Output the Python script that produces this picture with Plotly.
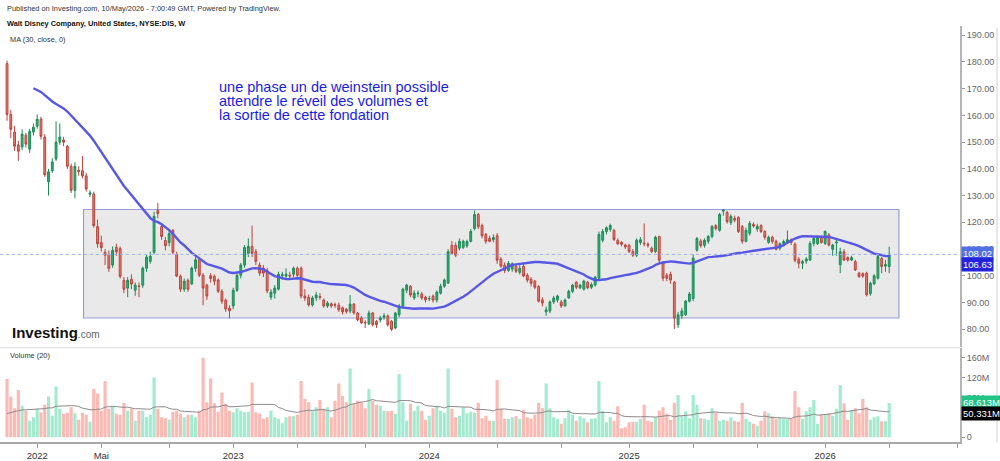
import pandas as pd
import plotly.graph_objects as go

# ---------------- data (weekly, DIS) ----------------
first_week = "2021-11-08"
opens = [179.4,160.4,153.8,149,148.2,152.6,147.4,153.8,156,158.6,
151.9,135.2,139.3,143.7,150,150.8,148.5,141,132,139.5,
139.3,137.4,130.5,130.6,118.4,112.4,108.8,108,104,110.6,
110.2,98.3,95.4,98.7,94.6,96.2,96.5,102.8,105.4,108.8,
124.4,118.4,113.2,112.4,117,108,99.8,95,98.3,97,
102.8,106,100.2,96.5,100,99.8,98.4,94.2,90.9,87.9,
88.7,94.6,100.2,104,108.4,111,109,104,102.8,102,
92,93.5,95,100,99.9,100.2,100.6,102.8,102.8,92.4,
92,89.1,91.7,92.2,90.9,88.7,89.5,89.2,89,88,
87.5,86.8,89.4,86.1,84.2,82.6,82,86.1,83,83.5,
84.5,85,83,80.5,85.4,88.7,94.6,96.1,91.7,93.3,
93.2,92,91.3,92.4,90.9,93.5,96.1,97.3,111.4,111.4,
110.3,110.6,111.2,112.9,117.7,122.9,118.8,115.5,114,113.5,
115,106.2,104,102,102.5,103.6,101.3,103.6,100.2,98.7,
98,96,91,86.5,86.8,90.2,90.9,90.2,88.7,91.7,
94.2,97.6,95.5,95,97.6,95.7,96.5,99.1,113.3,116.6,
117.3,117,113.3,112.5,111.5,111.4,109.1,107.7,112.5,112.2,
111.8,110.3,109.1,114.7,105,100.2,100.6,97.6,81.7,85,
85.4,90.5,91.5,109.6,113,111.4,112.9,114.7,118.8,117,
124.2,123.7,119.9,121.5,121.8,118.4,112.9,115.9,119.2,117.5,
118.8,116.6,112.5,114.4,112.9,110.3,112,112.5,113.5,111.8,
106.2,104.7,105.5,105.9,112.1,112,114.5,112.1,115.3,109.9,
112.3,104.1,109,106.8,105.9,105.3,101,100.8,101,93.3,
97,99.1,106.5,103.6,103.5]
highs = [180.5,162,156,150.5,154.8,153.5,155,157,160.4,159.5,
153,140,144,157.8,157,152,149,142,142.5,141,
144.8,138.5,132,131.5,121,115,110,109.5,111,112,
111,99.5,99.5,100.5,97.5,97.5,103.5,108,109,124,
127.3,119.5,114.5,117,117.5,109,100.5,99,99,103.5,
107,106.5,101,97,101,100.5,99,95,91.5,89,
95.5,101,104.8,111.5,114,118.8,110,105,104,103,
95,96.5,101.5,101.5,102.8,101.5,103.5,103.5,103.5,95,
93,92.5,94,93.5,91.5,90.5,90,90,90,88.5,
88,92.8,89.8,86.5,85,83.5,87,86.5,83.5,85,
86,85.5,83.5,86.5,89.5,95.5,97,96.5,94.5,94.5,
94,92.5,92.5,93,94.5,97,99,110,113,112.5,
114,113.5,113.5,117.5,124.4,123.5,119.5,116,115,115.5,
116,107,105,105.5,105,104,104,104.5,101,99.5,
98.5,96.5,92,88.5,90.8,92.5,93,91,91.5,94.8,
97,98,97,98.5,98,97.5,100,116.5,117.5,118.5,
119.5,117.5,114,113,112,112,110,114,114.5,119.6,
112.5,111,115,115,105.5,101,101.5,98,86.5,88,
91,94,108,114.5,113.8,114,115.3,119,119.3,123.5,
125,124.3,123,122.5,122.3,119,118,120.5,120,119.5,
119.3,117,115,115,113.5,112.5,113.5,117,114,112.5,
107,106,107,113,114.5,115,115,117,116,112,
113.5,110.5,110,107.3,107.5,106,101.5,101.3,101.5,97.8,
100.6,107.8,107,106,110.9]
lows = [158,151.5,146.7,143,147,148,146,152.5,155,151,
137,130,138.5,143,149,148.5,140,131,129,137.5,
136.5,131.5,129.5,118,110.5,109,104,101.5,103,107.5,
99,93.5,92,95,92.5,92,95.5,101.5,104.5,108,
121.5,113.5,109.5,111,108,99.5,94,94,94,96.5,
101.5,99.5,89,91,97.5,96.5,93.5,89.5,86.5,84.1,
87.5,94,99,103,107,107,104,100,99.5,93.5,
91,91.5,94.5,98.5,99,98.5,99.5,99,91.5,90.5,
88.5,88.5,90.5,91,88,88,88,88,86.5,85.5,
85.8,86,85.5,83,82,80.5,81.5,81,80.5,82.5,
83.5,81,79.3,80,84.5,88,93.5,92,91,92,
91,90,90.5,90,90,93,95.5,97,108,107,
109.5,110,110.5,112.5,117,117.5,114,112,112.5,112.5,
104.5,103,101,101.5,101.5,101,100.5,99.5,97.5,96,
95,90,88.5,85,86,89.5,90,88,88.5,91.5,
93.5,95,95,94.5,95,95,96,98.5,112.5,115.5,
116.5,113,111.5,111,110,108.5,107,107,111.5,111,
110.5,108.5,108.5,105,98,98,97,80.1,80.5,84,
85,90,90.5,109,110.5,110.5,112,114,117,116.5,
122.5,119.5,119,120,116,112,112.5,115,118,116.5,
116,113.5,112,112,109.5,109.5,111,112,111.5,105,
102.8,102.5,104.5,105.5,111,111.5,112,111.5,111,107.5,
107.5,101,105.5,105.3,105.5,101.8,99.2,99.2,92.3,92.5,
96.5,98.6,101,101.5,101]
closes = [160.4,154.8,148.5,146.6,153,149.3,154,155.6,158.6,152.2,
137.8,138.9,142.6,150,151.9,150,141,132,141,139,
137.4,132.5,131,118.8,112,110.6,107.7,102.8,109.5,109,
99.8,95,98.3,96.9,96.5,96,102.8,107,107.3,122.2,
123.3,114.7,111.3,115.8,108.8,99.9,95,98,95,102.8,
106,100.2,95.4,92.4,99,98,94.2,90.5,87.6,86.9,
94.6,100.2,104,110.6,111,108.4,105.4,101,101,94.3,
93.9,95.4,100.6,100.4,100.6,99.9,102.8,100.2,92.4,91.7,
89.1,91.7,92.8,92,88.7,89.8,88.7,89,87.3,86.5,
86.6,89.4,86.1,83.5,82.4,82.4,86.1,81.7,81.7,84.2,
85,81.7,80,86,88.7,95,96.5,92.8,93.5,93.5,
91.7,91,91.5,90.9,93.9,96.1,98.4,109,108.4,107.7,
112.9,112.9,112.8,116.6,122.9,118.4,115,112.9,112.9,114.3,
105.8,103.6,102,104.7,104.5,101.7,102.8,99.9,98.4,97.2,
95.7,90.5,89.8,87.3,90.2,91.7,92.4,88.7,90.9,94.2,
96.5,95.7,96.5,98,95.5,96.7,99.5,115.5,116.6,118,
118.8,113.6,112,111.8,110.8,109.1,107.7,113.3,113.5,112,
111.4,109.1,114.4,105.8,99.1,99.1,98.4,84.2,85.4,86.8,
90.5,93.2,106.6,114,111.3,113.3,114.7,118.4,117.7,122.9,
124.6,120.3,122.2,120.8,116.6,112.9,117,119.6,118.6,118.5,
116.6,114.4,114.4,112.9,109.9,112,112.8,113.5,112.5,105.8,
104.7,105.3,106.3,112.1,114,114.5,112.5,116.6,111.5,111.5,
112.6,109,105.9,105.9,106.8,102.2,99.7,99.9,92.9,97.2,
100,107.2,103.5,104.2,108.02]
volumes_m = [117,82,58,95,63,53,33,40,57,50,
65,82,43,102,57,47,49,60,48,35,
49,45,31,97,88,53,113,57,63,47,
45,69,53,57,33,53,53,40,45,120,
57,40,38,35,51,53,47,40,45,45,
40,53,160,70,118,68,51,90,67,53,
50,58,53,50,51,110,50,47,37,40,
53,40,37,28,40,42,42,45,113,77,
70,53,60,75,57,60,40,73,108,83,
70,138,67,73,70,58,97,73,65,63,
53,52,53,47,127,70,33,67,53,63,
53,35,43,58,63,53,49,138,57,40,
43,60,48,51,49,69,38,43,33,33,
115,57,37,37,40,42,37,55,40,37,
45,69,58,108,58,40,37,27,38,55,
45,33,42,38,30,37,38,113,53,30,
40,33,62,18,20,30,31,31,37,65,
33,31,40,53,60,47,35,69,85,42,
52,38,85,65,38,37,35,58,50,33,
35,33,40,33,31,69,37,31,27,23,
33,52,48,42,37,38,37,37,38,93,
60,37,52,60,75,27,45,45,48,43,
57,105,68,35,55,58,48,77,60,35,
40,42,32,32,68.613]
# weeks before the first visible candle (feed the moving averages only)
pre_closes = [176.5,176,173.5,177,176,178,175,177,176,177.5,183,
              178,181,183,180,176,175,171,172,174,172,176]
pre_volumes_m = [38,42,35,40,45,36,33,41,48,39,52,44,37,46,43,50,47,55,61]

ma_label = "106.63"
vol_ma_label = "50.331M"

tick_dates = ["2022-01-03","2022-05-02","2022-09-05","2023-01-02","2023-05-01","2023-09-04",
              "2024-01-01","2024-05-06","2024-09-02","2025-01-06","2025-05-05","2025-09-01",
              "2026-01-05","2026-05-04","2026-09-07"]
tick_text = ["2022","Mai","","2023","","","2024","","","2025","","","2026","",""]
price_ticks = [80,90,100,110,120,130,140,150,160,170,180,190]
vol_ticks = [0,80,120,160]

box_start, box_end = "2022-03-30", "2026-05-22"
box_low, box_high = 84.2, 124.8

note_lines = ["une phase un de weinstein possible",
              "attendre le réveil des volumes et",
              "la sortie de cette fondation"]

n = len(closes)
assert len(opens) == len(highs) == len(lows) == n == len(volumes_m)
dates = pd.date_range(first_week, periods=n, freq="7D")

ma30 = pd.Series(pre_closes + closes).rolling(30).mean().iloc[len(pre_closes):].to_numpy()
vma20 = pd.Series(pre_volumes_m + volumes_m).rolling(20).mean().iloc[len(pre_volumes_m):].to_numpy()

vol_colors = ["#a3ead0" if c >= o else "#fbbab4" for o, c in zip(opens, closes)]

# ---------------- geometry ----------------
W, H = 1000, 461
def py(px):
    return 1 - px / H

px_per_week = 3.77
days_per_px = 7 / px_per_week
t_ref = pd.Timestamp("2022-01-03")
x_left = t_ref - pd.Timedelta(days=37.2 * days_per_px)
x_right = x_left + pd.Timedelta(days=960 * days_per_px)

ppx = 2.69  # px per dollar
p_top = 190 + (35.5 - 26) / ppx
p_bot = 190 - (349 - 35.5) / ppx

FONT = "Liberation Sans, Arial, sans-serif"

fig = go.Figure()
fig.add_trace(go.Bar(x=dates, y=volumes_m, xaxis="x", yaxis="y2",
                     marker=dict(color=vol_colors, line=dict(width=0)),
                     width=7 * 86400000 * 0.84, hoverinfo="skip"))
fig.add_trace(go.Scatter(x=dates, y=vma20, xaxis="x", yaxis="y2", mode="lines",
                         line=dict(color="#8f8a8a", width=1), hoverinfo="skip"))
fig.add_trace(go.Candlestick(x=dates, open=opens, high=highs, low=lows, close=closes,
                             xaxis="x", yaxis="y", whiskerwidth=0,
                             increasing=dict(line=dict(color="#1d8a58", width=1), fillcolor="#2db273"),
                             decreasing=dict(line=dict(color="#b9443c", width=1), fillcolor="#ee7d71"),
                             hoverinfo="skip"))
fig.add_trace(go.Scatter(x=dates, y=ma30, xaxis="x", yaxis="y", mode="lines",
                         line=dict(color="#5757e6", width=2.4), hoverinfo="skip"))

shapes = [
    dict(type="rect", xref="x", yref="y", x0=box_start, x1=box_end, y0=box_low, y1=box_high,
         fillcolor="#e9e9e9", line=dict(color="#9a9ad8", width=1.2), layer="below"),
    dict(type="line", xref="paper", yref="y", x0=0, x1=0.96, y0=closes[-1], y1=closes[-1],
         line=dict(color="#9fb3ea", width=1, dash="dot")),
    dict(type="line", xref="paper", yref="paper", x0=0, x1=0.96, y0=py(350), y1=py(350),
         line=dict(color="#dcdcdc", width=1)),
    dict(type="line", xref="paper", yref="paper", x0=0.997, x1=0.997, y0=py(445), y1=py(28),
         line=dict(color="#d0d0d0", width=1)),
]

ann = []
def txt(x, y, text, size=7.4, color="#333333", **kw):
    ann.append(dict(xref="paper", yref="paper", x=x / W, y=py(y), text=text, showarrow=False,
                    xanchor="left", yanchor="middle", font=dict(family=FONT, size=size, color=color), **kw))

txt(5, 9, "Published on Investing.com, 10/May/2026 - 7:00:49 GMT, Powered by TradingView.")
txt(5, 24, "<b>Walt Disney Company, United States, NYSE:DIS, W</b>", color="#111111")
txt(8, 40, "MA (30, close, 0)")
txt(8, 358, "Volume (20)")
for k, line in enumerate(note_lines):
    txt(217, 88 + 14 * k, line, size=14.5, color="#1c1ce0")
txt(10, 335, "<b>Investing</b><span style='font-size:10px;color:#666'>.com</span>",
    size=15, color="#111111")

def tag(y, yref, text, bg, yshift=0):
    ann.append(dict(xref="paper", yref=yref, x=0.961, y=y, text=text, showarrow=False,
                    xanchor="left", yanchor="middle", yshift=yshift, bgcolor=bg, borderpad=1,
                    font=dict(family=FONT, size=9.5, color="white")))

tag(closes[-1], "y", f"{closes[-1]:.2f}", "#5070e4", yshift=1)
tag(closes[-1], "y", ma_label, "#2323dc", yshift=-10)
tag(volumes_m[-1], "y2", f"{volumes_m[-1]:.3f}M", "#22c486", yshift=1)
tag(vma20[-1], "y2", vol_ma_label, "#000000", yshift=-2)

fig.update_layout(
    width=W, height=H, autosize=False,
    margin=dict(l=0, r=0, t=0, b=0),
    paper_bgcolor="white", plot_bgcolor="white",
    showlegend=False, font=dict(family=FONT, size=9, color="#555"),
    shapes=shapes, annotations=ann,
    xaxis=dict(domain=[0, 0.96], anchor="y2", type="date", range=[x_left, x_right],
               tickvals=tick_dates, ticktext=tick_text, ticks="outside", ticklen=4,
               tickcolor="#999", showline=True, linecolor="#a8a8a8", linewidth=1.5,
               showgrid=False, zeroline=False, rangeslider=dict(visible=False),
               tickfont=dict(family=FONT, size=9.5, color="#333")),
    yaxis=dict(domain=[py(349), py(26)], anchor="x", side="right", range=[p_bot, p_top],
               tickvals=price_ticks, ticktext=[f"{v:.2f}" for v in price_ticks],
               ticks="outside", ticklen=3, tickcolor="#999", showline=True,
               linecolor="#b5b5b5", linewidth=2, showgrid=False, zeroline=False,
               tickfont=dict(family=FONT, size=9, color="#666")),
    yaxis2=dict(domain=[py(445), py(350)], anchor="x", side="right", range=[-10, 180],
                tickvals=vol_ticks, ticktext=["0" if v == 0 else f"{v}M" for v in vol_ticks],
                ticks="outside", ticklen=3, tickcolor="#999", showline=True,
                linecolor="#b5b5b5", linewidth=2, showgrid=False, zeroline=False,
                tickfont=dict(family=FONT, size=9, color="#666")),
)

post = ("document.documentElement.style.margin='0';document.documentElement.style.padding='0';"
        "document.documentElement.style.overflow='hidden';"
        "document.body.style.margin='0';document.body.style.padding='0';"
        "document.body.style.overflow='hidden';document.body.style.height='461px';"
        "var g=document.querySelector('.plotly-graph-div');"
        "if(g&&g.parentElement){g.parentElement.style.height='461px';"
        "g.parentElement.style.overflow='hidden';g.style.display='block';}")
fig.write_html("out.html", config={"displayModeBar": False}, post_script=post)
